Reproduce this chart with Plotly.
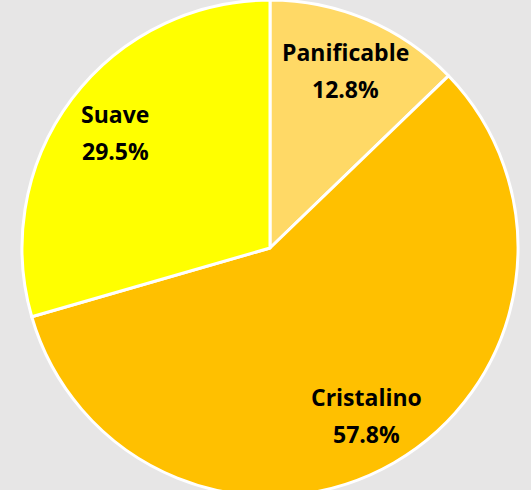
import math
import plotly.graph_objects as go

# wheat types and their share (%)
tipos = ["Panificable", "Cristalino", "Suave"]
porcentajes = [12.8, 57.8, 29.5]
colores = ["#FFD966", "#FFC000", "#FFFF00"]

W, H = 531, 496
# pie placement: domain in paper fractions
dom_x = [22 / W, 518 / W]
dom_y = [0, 1]

fig = go.Figure()

fig.add_trace(go.Pie(
    labels=tipos,
    values=porcentajes,
    sort=False,
    direction="clockwise",
    rotation=0,
    marker=dict(colors=colores, line=dict(color="white", width=3)),
    textinfo="none",
    hoverinfo="label+percent",
    showlegend=False,
    domain=dict(x=dom_x, y=dom_y),
))

# data labels placed along each slice's mid-angle
cx = (dom_x[0] + dom_x[1]) / 2 * W
cy = (dom_y[0] + dom_y[1]) / 2 * H
radio = min((dom_x[1] - dom_x[0]) * W, (dom_y[1] - dom_y[0]) * H) / 2
total = sum(porcentajes)
acum = 0
annotations = []
for tipo, pct in zip(tipos, porcentajes):
    ang = (acum + pct / 2) / total * 2 * math.pi
    acum += pct
    px = cx + 0.78 * radio * math.sin(ang)
    py = cy + 0.78 * radio * math.cos(ang)
    for texto, shift in [(f"<b>{tipo}</b>", 18), (f"<b>{pct:.1f}%</b>", -19)]:
        annotations.append(dict(
            x=px / W, y=py / H, xref="paper", yref="paper",
            text=texto, showarrow=False, yshift=shift,
            xanchor="center", yanchor="middle",
            font=dict(family="Open Sans", size=23, color="black"),
        ))

fig.update_layout(
    width=W,
    height=H,
    margin=dict(l=0, r=0, t=0, b=0),
    paper_bgcolor="#E7E6E6",
    plot_bgcolor="#E7E6E6",
    annotations=annotations,
)

fig.write_html(
    "out.html",
    config={"displayModeBar": False},
    post_script="document.body.style.margin='0';document.body.style.overflow='hidden';"
                "document.body.style.background='#E7E6E6';",
)
